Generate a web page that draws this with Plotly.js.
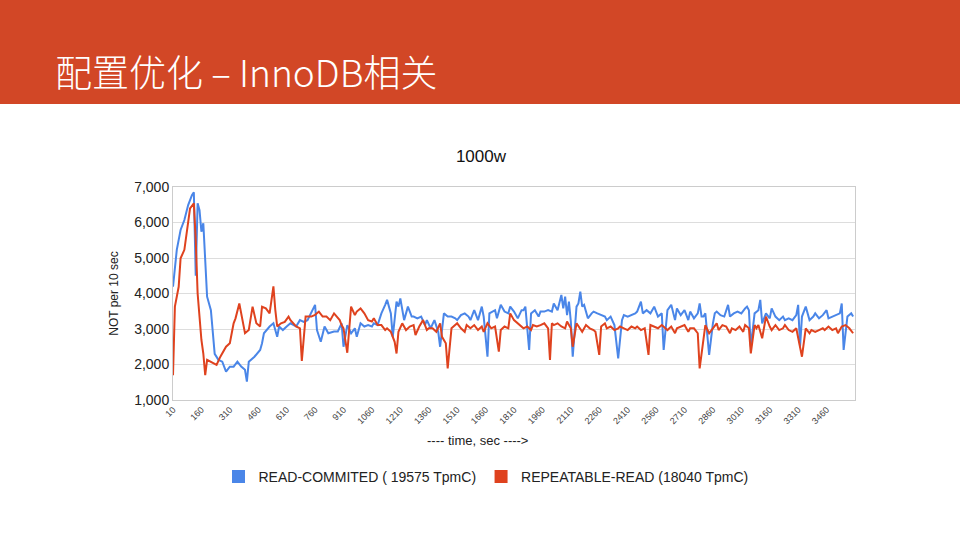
<!DOCTYPE html>
<html>
<head>
<meta charset="utf-8">
<script src="https://cdn.plot.ly/plotly-3.0.1.min.js"></script>
<style>
  html, body { margin: 0; padding: 0; background: #ffffff; }
  #wrap { position: relative; width: 960px; height: 540px; overflow: hidden; }
  #header { position: absolute; left: 0; top: 0; width: 960px; height: 104px; background: #D24726; z-index: 2; }
  #header span { position: absolute; left: 55px; top: 53px; font-family: "Noto Sans CJK SC", "Noto Sans", sans-serif; font-weight: 300; font-size: 37px; line-height: 37px; color: #ffffff; white-space: nowrap; }
  #chart { position: absolute; left: 0; top: 0; width: 960px; height: 540px; }
</style>
</head>
<body>
<div id="wrap">
  <div id="chart"></div>
  <div id="header"><span>配置优化 – InnoDB相关</span></div>
</div>
<script>
// ---- data ----
const slideTitle = "配置优化 – InnoDB相关";
const chartTitle = "1000w";
const yAxisLabel = "NOT per 10 sec";
const xAxisLabel = "---- time, sec ---->";

const seriesNames = ["READ-COMMITED ( 19575 TpmC)", "REPEATABLE-READ (18040 TpmC)"];

const xTickVals = [10,160,310,460,610,760,910,1060,1210,1360,1510,1660,1810,1960,2110,2260,2410,2560,2710,2860,3010,3160,3310,3460];

const rcTime = [10,30,50,70,90,110,120,130,140,150,160,170,190,210,230,250,270,290,310,330,350,370,390,400,410,440,470,480,490,520,540,560,570,590,610,630,660,680,700,720,760,770,790,810,830,860,880,900,910,930,950,970,980,1000,1020,1040,1060,1070,1090,1110,1130,1140,1160,1170,1190,1200,1210,1230,1250,1270,1280,1300,1320,1340,1350,1370,1390,1410,1420,1440,1460,1480,1500,1510,1530,1550,1570,1580,1600,1620,1640,1650,1670,1680,1710,1720,1740,1760,1780,1790,1810,1830,1850,1860,1870,1890,1900,1920,1940,1950,1970,1990,2010,2020,2040,2060,2070,2080,2090,2100,2110,2120,2140,2150,2160,2170,2180,2200,2220,2230,2250,2270,2290,2300,2320,2340,2360,2380,2390,2410,2430,2450,2460,2480,2490,2510,2530,2550,2570,2590,2600,2620,2640,2660,2670,2690,2710,2730,2740,2760,2780,2790,2800,2810,2820,2840,2860,2870,2880,2900,2920,2940,2950,2970,2990,3010,3030,3040,3050,3060,3080,3100,3110,3120,3140,3160,3170,3190,3210,3230,3240,3260,3280,3300,3310,3320,3330,3350,3370,3390,3400,3420,3440,3460,3470,3490,3510,3530,3540,3550,3570,3590,3600];
const rcValues = [4190,5230,5790,6070,6490,6770,6850,4500,6540,6350,5740,5980,3910,3530,2300,2130,2080,1800,1940,1940,2080,1940,1850,1520,2080,2220,2410,2600,2880,3070,3160,2780,3070,2970,3070,3160,3070,3250,3200,3250,3680,2970,2640,3070,2880,2930,2930,3160,2500,3110,2880,3020,2780,3160,3070,3110,3070,3160,3110,3440,3680,3820,3440,2780,3770,3630,3860,3250,3630,3350,3350,3300,3350,3110,3250,3020,3250,2920,2500,3440,3350,3350,3300,3250,3390,3440,3350,3250,3530,3250,3630,3350,2220,3440,3530,3300,3680,3490,3440,3630,3490,3300,3530,3530,3630,2410,3440,3530,3350,3490,3490,3530,3490,3720,3530,3960,3580,3910,3390,3770,3210,2220,3630,3720,4050,3630,3680,3300,3440,3490,3440,3390,3350,3250,3350,3110,2170,3250,3390,3350,3390,3440,3490,3770,3440,3530,3440,3630,3350,3440,2410,3530,3680,3250,3580,3390,3530,3250,3490,3300,3440,3720,3350,3350,3440,2270,3160,3440,3490,3390,3350,3680,3350,3440,3490,3440,3580,3630,3530,2500,3440,3530,3820,3160,3440,3300,3580,3350,3250,3350,3250,3300,3250,3390,3680,2500,3350,3630,3250,3350,3440,3300,3390,3530,3300,3350,3390,3440,3720,2410,3350,3440,3350];

const rrTime = [10,20,40,50,70,90,100,120,130,140,160,170,180,190,210,230,240,260,270,290,310,330,340,360,370,390,410,430,450,470,480,500,520,540,550,560,580,600,620,630,660,680,690,710,740,760,780,800,820,840,860,890,900,910,930,950,970,980,1000,1020,1040,1060,1070,1090,1110,1130,1140,1160,1180,1190,1200,1220,1240,1260,1280,1290,1310,1330,1350,1360,1380,1400,1420,1430,1450,1460,1480,1490,1510,1530,1550,1560,1580,1600,1620,1640,1650,1670,1690,1710,1730,1740,1760,1780,1790,1810,1830,1850,1860,1880,1900,1910,1930,1950,1970,1990,2000,2010,2020,2040,2060,2080,2090,2110,2120,2140,2160,2170,2190,2210,2230,2240,2260,2270,2290,2300,2320,2340,2360,2370,2390,2410,2430,2450,2460,2480,2500,2520,2530,2550,2570,2590,2600,2620,2640,2660,2670,2690,2710,2730,2740,2760,2780,2790,2810,2820,2840,2860,2880,2890,2910,2930,2950,2960,2980,3000,3020,3030,3050,3060,3080,3090,3100,3120,3140,3160,3170,3190,3210,3230,3240,3260,3280,3300,3310,3330,3350,3370,3380,3400,3420,3440,3450,3470,3490,3510,3520,3540,3560,3580,3600];
const rrValues = [1700,3630,4190,4990,5230,6070,6400,6540,5510,4000,2690,2310,1700,2130,2080,2030,1990,2220,2310,2500,2600,3160,3300,3720,3440,2880,2970,3630,3160,3070,3630,3580,3440,4200,3540,3070,3160,3200,3350,3250,3070,3020,2100,3350,3350,3400,3490,3350,3350,3250,3440,3250,3110,3020,2330,3630,3390,3490,3580,3440,3250,3210,3300,3110,3110,2970,3020,2920,2640,2310,2920,3160,2970,3070,3110,2830,3070,3250,2970,3020,3020,2920,3160,2780,2600,1890,3020,3070,3160,3020,2920,3110,3020,3110,2970,3070,2920,3160,3020,3070,2360,2970,3070,3020,3440,3250,3160,3070,3020,3070,2970,3110,3070,3110,3160,3020,2130,3160,3110,3160,3070,3020,3210,3020,2500,3160,3020,2920,3110,3020,2970,2920,2270,3070,3160,3020,3070,2970,3020,3070,3020,2970,3070,3020,3070,2970,3020,2270,3110,3070,3020,3110,3070,2970,3070,2880,3020,3070,3110,2920,3020,3020,2880,1890,2780,3110,2880,3020,3160,2970,3110,3070,2880,3020,2970,3070,2920,3110,3020,2310,3110,3020,3110,2740,3350,3070,2970,3110,2970,3020,3110,2970,2920,3020,2780,2220,3020,2880,2970,2920,2970,3020,2970,3070,2970,3020,2880,3070,3110,3020,2880];

const seriesColors = ["#4A86E8", "#DF421E"];

// ---- chart ----
const traces = [
  { x: rcTime, y: rcValues, type: "scatter", mode: "lines", name: seriesNames[0],
    line: { color: seriesColors[0], width: 2 }, showlegend: false },
  { x: rrTime, y: rrValues, type: "scatter", mode: "lines", name: seriesNames[1],
    line: { color: seriesColors[1], width: 2 }, showlegend: false },
  { x: [null], y: [null], type: "scatter", mode: "markers", name: seriesNames[0],
    marker: { color: seriesColors[0], symbol: "square", size: 13 } },
  { x: [null], y: [null], type: "scatter", mode: "markers", name: seriesNames[1],
    marker: { color: seriesColors[1], symbol: "square", size: 13 } }
];

const layout = {
  width: 960, height: 540,
  margin: { l: 173, r: 105, t: 187, b: 140 },
  paper_bgcolor: "#ffffff", plot_bgcolor: "#ffffff",
  font: { family: "Liberation Sans, Arial, sans-serif", color: "#222222" },
  title: { text: chartTitle, x: 0.501, xref: "container", y: 1 - 156/540, yref: "container",
           xanchor: "center", yanchor: "middle",
           font: { size: 17, color: "#111111", family: "Liberation Sans, Arial, sans-serif" } },
  xaxis: {
    range: [10, 3610], tickmode: "array", tickvals: xTickVals, tickangle: -45,
    tickfont: { size: 9, color: "#444444" }, showgrid: false, zeroline: false,
    showline: true, linecolor: "#cccccc", linewidth: 1, mirror: true, ticks: ""
  },
  yaxis: {
    range: [1000, 7000], dtick: 1000, tickformat: ",d",
    tickfont: { size: 14, color: "#222222" }, showgrid: true, gridcolor: "#dddddd",
    zeroline: false, showline: true, linecolor: "#cccccc", linewidth: 1, mirror: true, ticks: "",
    title: { text: yAxisLabel, standoff: 12, font: { size: 12, color: "#222222" } }
  },
  showlegend: true,
  legend: { orientation: "h", x: (486 - 173) / 682, xanchor: "center", y: (400 - 477) / 213, yanchor: "middle",
            font: { size: 14, color: "#222222" }, bgcolor: "rgba(0,0,0,0)" },
  annotations: [
    { text: xAxisLabel, xref: "paper", yref: "paper", x: (477 - 173) / 682, y: (400 - 440) / 213,
      xanchor: "center", yanchor: "middle", showarrow: false, font: { size: 13, color: "#222222" } }
  ]
};

Plotly.newPlot("chart", traces, layout, { displayModeBar: false, staticPlot: true });
</script>
</body>
</html>
